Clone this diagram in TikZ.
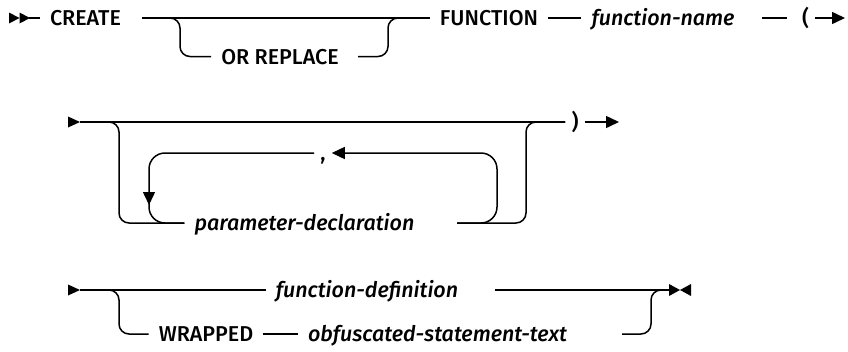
\documentclass[tikz,border=0pt]{standalone}
\usepackage{fontspec}
\setsansfont{Fira Sans}[UprightFont=* Medium,ItalicFont=* Medium Italic]
\usetikzlibrary{arrows.meta}
\tikzset{
  font=\sffamily\fontsize{21.5}{24}\selectfont,
  kw/.style={inner xsep=10pt,inner ysep=0pt,text height=15pt,text depth=0pt},
  var/.style={kw,font=\sffamily\itshape\fontsize{21.5}{24}\selectfont},
  punct/.style={kw,inner xsep=6pt},
  rail/.style={line width=1.5pt,rounded corners=10pt},
  loopback/.style={rail,rounded corners=16pt},
  tip/.style={-{Triangle[length=13pt,width=12pt]}},
}

\begin{document}
\begin{tikzpicture}[x=1pt,y=-1pt]
\useasboundingbox (0,0) rectangle (848,351);

% ============ ROW 1 ============
\fill (9,12.5) -- (19.5,18) -- (9,23.5) -- cycle;
\fill (19.5,12.5) -- (30,18) -- (19.5,23.5) -- cycle;
\coordinate (s1) at (29,18);
\node[kw] (create) at (85.5,18) {CREATE};
\node[kw] (orrep) at (280,56.5) {OR REPLACE};
\node[kw] (function) at (489,18) {FUNCTION};
\node[var] (fname) at (663,18) {function-name};
\node[punct] (lparen) at (805.5,18) {(};
\coordinate (create-out) at (142,18);
\coordinate (a1) at (180,18);
\coordinate (orrep-out) at (358,56.5);
\coordinate (a2) at (388,18);
\coordinate (fname-out) at (762,18);
\coordinate (e1) at (845,18);

\draw[rail] (s1) -- (create.west);
\draw[rail] (create-out) -- (function.west);
\draw[rail] (create-out) -- (a1) |- (orrep.west);
\draw[rail] (orrep-out) -| (a2) -- (function.west);
\draw[rail] (function.east) -- (fname.west);
\draw[rail] (fname-out) -- ([xshift=-9pt]lparen.west);
\draw[rail,tip] (lparen.east) -- (e1);

% ============ ROW 2 ============
\fill (68,116.5) -- (80,122) -- (68,127.5) -- cycle;
\coordinate (s2) at (80,122);
\node[punct] (rparen) at (575,122) {)};
\node[var] (pdecl) at (304.5,223) {parameter-declaration};
\node[punct] (comma) at (323,153) {,};
\coordinate (b1) at (119,122);
\coordinate (b2) at (526,122);
\coordinate (pd-out) at (457,223);
\coordinate (c2) at (497,153);
\coordinate (c3) at (149,205);
\coordinate (c4) at (149,193);
\coordinate (e2) at (619,122);

\draw[rail] (s2) -- (rparen.west);
\draw[rail] (s2) -- (b1) |- (pdecl.west);
\draw[rail] (pd-out) -| (b2) -- (rparen.west);
\draw[rail,tip] (rparen.east) -- (e2);
% repeat loop
\draw[loopback,tip] (pd-out) -| (c2) -- (comma.east);
\draw[loopback,tip] (comma.west) -| (c3);
\draw[loopback] (c4) |- (pdecl.west);

% ============ ROW 3 ============
\fill (68,284.5) -- (80,290) -- (68,295.5) -- cycle;
\coordinate (s3) at (80,290);
\node[var] (fdef) at (367,290) {function-definition};
\node[kw] (wrapped) at (206,334) {WRAPPED};
\node[var] (obf) at (437.5,334) {obfuscated-statement-text};
\coordinate (b3) at (119,290);
\coordinate (fd-out) at (495,290);
\coordinate (obf-out) at (622,334);
\coordinate (b4) at (651,290);
\coordinate (e3) at (669,290);

\draw[rail] (s3) -- (fdef.west);
\draw[rail] (fd-out) -- (e3);
\draw[rail] (s3) -- (b3) |- (wrapped.west);
\draw[rail] (wrapped.east) -- (obf.west);
\draw[rail] (obf-out) -| (b4) -- (e3);
\fill (669,284) -- (680,290) -- (669,296) -- cycle;
\fill (691,284) -- (680,290) -- (691,296) -- cycle;

\end{tikzpicture}
\end{document}
